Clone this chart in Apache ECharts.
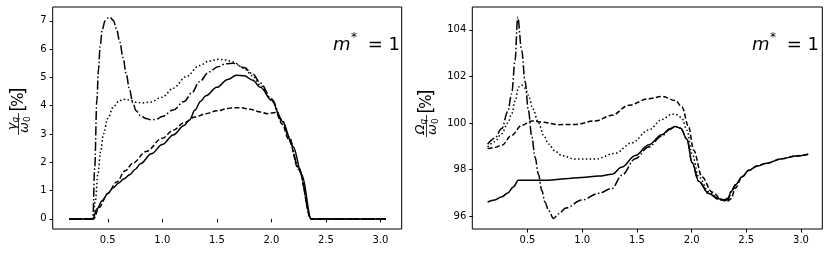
<!DOCTYPE html>
<html><head><meta charset="utf-8">
<script src="https://cdn.jsdelivr.net/npm/echarts@6/dist/echarts.min.js"></script>
<style>html,body{margin:0;padding:0;background:#fff}#c{width:830px;height:253px}</style>
</head><body><div id="c"></div>
<script>
// ---------- tick labels ----------
const xTicks = [0.5, 1.0, 1.5, 2.0, 2.5, 3.0];
const gammaTicks = [0, 1, 2, 3, 4, 5, 6, 7];
const omegaTicks = [96, 98, 100, 102, 104];

// ---------- left panel: gamma_q / omega_0 [%] ----------
const gSolidX = [0.147,0.363,0.40,0.45,0.50,0.55,0.60,0.65,0.70,0.75,0.80,0.90,1.0,1.10,1.20,1.25,1.30,1.35,1.40,1.50,1.60,1.68,1.75,1.83,1.90,2.0,2.10,2.20,2.28,2.365,3.049];
const gSolidY = [0,0,0.35,0.65,0.9,1.1,1.27,1.42,1.56,1.75,1.95,2.3,2.63,2.97,3.3,3.5,3.85,4.15,4.35,4.65,4.93,5.08,5.06,4.9,4.65,4.2,3.45,2.55,1.55,0,0];

const gDashX = [0.147,0.37,0.42,0.50,0.58,0.66,0.73,0.85,1.0,1.10,1.20,1.30,1.40,1.50,1.60,1.65,1.72,1.80,1.90,1.96,2.0,2.04,2.10,2.16,2.25,2.365,3.049];
const gDashY = [0,0,0.4,0.9,1.3,1.7,1.97,2.38,2.85,3.13,3.4,3.6,3.72,3.82,3.9,3.93,3.93,3.88,3.78,3.72,3.74,3.76,3.35,2.8,1.75,0,0];

const gDotX = [0.147,0.363,0.385,0.41,0.435,0.46,0.50,0.55,0.60,0.64,0.70,0.76,0.82,0.89,1.0,1.10,1.22,1.34,1.43,1.51,1.58,1.65,1.75,1.83,1.90,2.0,2.10,2.16,2.25,2.365,3.049];
const gDotY = [0,0,0.6,1.6,2.4,3.0,3.55,3.95,4.15,4.23,4.2,4.12,4.1,4.13,4.3,4.62,5.03,5.42,5.58,5.64,5.62,5.55,5.32,5.05,4.72,4.2,3.45,2.9,1.8,0,0];

const gDashDotX = [0.147,0.363,0.38,0.40,0.415,0.43,0.45,0.475,0.50,0.52,0.55,0.58,0.61,0.64,0.67,0.70,0.73,0.76,0.80,0.85,0.90,0.95,1.0,1.10,1.20,1.27,1.34,1.43,1.51,1.58,1.65,1.75,1.83,1.90,2.0,2.10,2.16,2.25,2.365,3.049];
const gDashDotY = [0,0,1.8,4.2,5.3,6.1,6.7,7.0,7.1,7.13,7.02,6.72,6.25,5.7,5.1,4.55,4.1,3.82,3.65,3.55,3.5,3.53,3.62,3.85,4.15,4.45,4.85,5.2,5.38,5.48,5.5,5.35,5.12,4.8,4.25,3.5,2.9,1.8,0,0];

// ---------- right panel: Omega_q / omega_0 [%] ----------
const oSolidX = [0.135,0.2,0.264,0.32,0.37,0.416,0.477,0.6,0.691,0.844,0.996,1.15,1.271,1.363,1.485,1.607,1.729,1.80,1.851,1.90,1.958,2.004,2.065,2.157,2.248,2.30,2.335,2.36,2.40,2.462,2.523,2.60,2.675,2.828,2.95,3.066];
const oSolidY = [96.61,96.7,96.83,97.0,97.25,97.54,97.54,97.54,97.54,97.61,97.66,97.72,97.8,98.11,98.61,99.06,99.5,99.75,99.85,99.78,99.3,98.3,97.5,96.97,96.75,96.7,96.78,97.05,97.35,97.69,97.97,98.15,98.26,98.47,98.58,98.66];

const oDashX = [0.135,0.2,0.264,0.355,0.447,0.538,0.63,0.783,0.935,1.119,1.271,1.424,1.607,1.729,1.851,1.912,1.973,2.019,2.095,2.187,2.279,2.335,2.36,2.40,2.462,2.523,2.60,2.675,2.828,2.95,3.066];
const oDashY = [98.9,98.95,99.04,99.47,99.9,100.09,100.04,99.93,99.94,100.09,100.33,100.76,101.04,101.14,100.97,100.69,99.83,98.83,97.69,97.04,96.69,96.65,96.75,97.2,97.69,97.97,98.15,98.26,98.47,98.58,98.66];

const oDotX = [0.135,0.2,0.264,0.32,0.355,0.39,0.416,0.447,0.477,0.508,0.55,0.6,0.65,0.691,0.75,0.813,0.935,1.119,1.302,1.454,1.607,1.729,1.821,1.87,1.912,1.958,2.004,2.065,2.157,2.248,2.30,2.335,2.36,2.40];
const oDotY = [98.97,99.2,99.54,100.0,100.4,101.0,101.54,101.63,101.5,101.19,100.6,100.0,99.45,99.1,98.8,98.6,98.45,98.45,98.7,99.15,99.7,100.15,100.38,100.35,100.2,99.69,98.69,97.7,97.05,96.75,96.68,96.7,97.05,97.35];

const oDashDotX = [0.135,0.2,0.264,0.32,0.355,0.386,0.41,0.447,0.477,0.508,0.538,0.569,0.6,0.63,0.66,0.691,0.737,0.783,0.85,0.996,1.15,1.271,1.363,1.485,1.607,1.729,1.80,1.851,1.90,1.958,2.004,2.065,2.157,2.248,2.30,2.335,2.36,2.40];
const oDashDotY = [99.09,99.35,99.76,100.5,101.26,102.69,104.54,103.11,101.8,100.54,99.45,98.54,97.8,97.11,96.6,96.26,95.9,96.1,96.35,96.69,96.98,97.19,97.76,98.47,98.97,99.45,99.72,99.85,99.78,99.3,98.3,97.5,96.97,96.72,96.66,96.72,97.05,97.35];

const FONT = '"DejaVu Sans", sans-serif';
const zip = (xs, ys) => xs.map((x, i) => [x, ys[i]]);

function xAxisDef(gi) {
  return {
    type: 'value', gridIndex: gi, min: -0.005, max: 3.195,
    axisLine: { show: false },
    splitLine: { show: false },
    axisTick: { show: true, inside: false, length: 3.5, customValues: xTicks, lineStyle: { color: '#000', width: 1 } },
    axisLabel: { customValues: xTicks, color: '#000', fontSize: 10, fontFamily: FONT, margin: 6,
                 formatter: v => v.toFixed(1) }
  };
}
function yAxisDef(gi, min, max, ticks) {
  return {
    type: 'value', gridIndex: gi, min: min, max: max,
    axisLine: { show: false },
    splitLine: { show: false },
    axisTick: { show: true, inside: false, length: 3.5, customValues: ticks, lineStyle: { color: '#000', width: 1 } },
    axisLabel: { customValues: ticks, color: '#000', fontSize: 10, fontFamily: FONT, margin: 6,
                 formatter: v => String(Math.round(v)) }
  };
}
function line(xs, ys, type, ai) {
  return {
    type: 'line', xAxisIndex: ai, yAxisIndex: ai, data: zip(xs, ys),
    showSymbol: false, symbol: 'none', smooth: 0.35, smoothMonotone: 'x',
    lineStyle: { color: '#000', width: 1.5, type: type },
    silent: true
  };
}
const DASH = [5, 2.4], DOT = [1.5, 2.4], DASHDOT = [9, 2.4, 1.5, 2.4];

function t(x, y, text, font, align) {
  return { type: 'text', x: x, y: y, style: { text: text, font: font + ' ' + FONT, align: align || 'center', verticalAlign: 'middle', fill: '#000' } };
}
function yLabel(cx, cy, sym) {
  return {
    type: 'group', x: cx, y: cy, rotation: Math.PI / 2,
    children: [
      t(-10.5, -6, sym, 'italic 13px', 'right'),
      t(-10.5, -3, 'q', 'italic 9px', 'left'),
      { type: 'line', shape: { x1: -23, y1: -0.5, x2: -1, y2: -0.5 }, style: { stroke: '#000', lineWidth: 0.8 } },
      t(-10, 5.5, 'ω', 'italic 13px', 'right'),
      t(-10, 8.5, '0', '9px', 'left'),
      t(4, 0.5, '[', '19px'),
      t(12.5, 0.5, '%', '15px'),
      t(21, 0.5, ']', '19px')
    ]
  };
}
function mLabel(x0) {
  return [
    t(x0, 45, 'm', 'italic 18px', 'left'),
    t(x0 + 18, 38, '*', '12px', 'left'),
    t(x0 + 67, 45, '= 1', '18px', 'right')
  ];
}

const chart = echarts.init(document.getElementById('c'), null, { renderer: 'canvas' });
chart.setOption({
  animation: false,
  backgroundColor: '#fff',
  grid: [
    { left: 52.7, right: 428.3, top: 7, bottom: 24, show: true, borderColor: '#000', borderWidth: 1, backgroundColor: 'transparent' },
    { left: 472.3, right: 7.7, top: 7, bottom: 24, show: true, borderColor: '#000', borderWidth: 1, backgroundColor: 'transparent' }
  ],
  xAxis: [xAxisDef(0), xAxisDef(1)],
  yAxis: [yAxisDef(0, -0.357, 7.49, gammaTicks), yAxisDef(1, 95.45, 104.98, omegaTicks)],
  series: [
    line(gSolidX, gSolidY, 'solid', 0),
    line(gDashX, gDashY, DASH, 0),
    line(gDotX, gDotY, DOT, 0),
    line(gDashDotX, gDashDotY, DASHDOT, 0),
    line(oSolidX, oSolidY, 'solid', 1),
    line(oDashX, oDashY, DASH, 1),
    line(oDotX, oDotY, DOT, 1),
    line(oDashDotX, oDashDotY, DASHDOT, 1)
  ],
  graphic: [
    yLabel(19, 112, 'γ'),
    yLabel(427, 114, 'Ω'),
    ...mLabel(333),
    ...mLabel(752)
  ]
});
</script>
</body></html>
